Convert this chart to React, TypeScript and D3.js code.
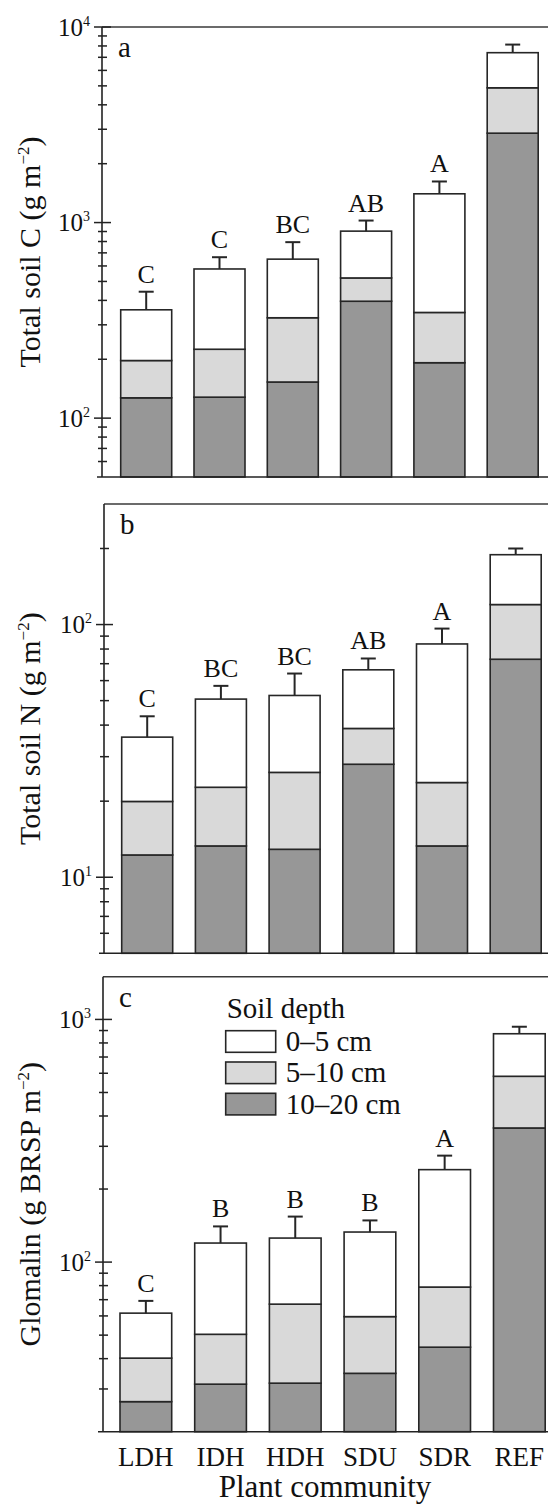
import React from "react";
import * as d3 from "d3";

const categories = ["LDH", "IDH", "HDH", "SDU", "SDR", "REF"];
const depthKeys = ["deep", "mid", "top"];
const legendLabels = ["0–5 cm", "5–10 cm", "10–20 cm"];

// Panel a: total soil C (g m-2)
const carbonDeep = [127, 128, 153, 396, 192, 2865];
const carbonMid = [70, 97, 173, 125, 155, 2023];
const carbonTop = [161, 354, 324, 383, 1056, 2502];
const carbonErr = [85, 86, 144, 120, 219, 740];
const carbonLetters = ["C", "C", "BC", "AB", "A", ""];

// Panel b: total soil N (g m-2)
const nitrogenDeep = [12.25, 13.3, 12.9, 28.0, 13.3, 72.9];
const nitrogenMid = [7.7, 9.4, 13.1, 10.8, 10.4, 47.1];
const nitrogenTop = [15.9, 28.0, 26.4, 27.4, 60.1, 69];
const nitrogenErr = [7.5, 6.5, 11.6, 7.2, 12.6, 11];
const nitrogenLetters = ["C", "BC", "BC", "AB", "A", ""];

// Panel c: glomalin (g BRSP m-2)
const glomalinDeep = [26.6, 31.4, 31.7, 34.8, 44.6, 357];
const glomalinMid = [13.6, 19.0, 35.4, 24.8, 34.3, 226];
const glomalinTop = [21.4, 69.4, 58.5, 73.4, 161.5, 290];
const glomalinErr = [7.6, 20.5, 28.4, 15.5, 34.2, 60];
const glomalinLetters = ["C", "B", "B", "B", "A", ""];

const FILL: Record<string, string> = { top: "#ffffff", mid: "#d9d9d9", deep: "#979797" };
const STROKE = "#262626";
const FONT = "'Liberation Serif', 'Times New Roman', serif";

type PanelSpec = {
  tag: string;
  title: string;
  titleSuffix?: string;
  deep: number[];
  mid: number[];
  top: number[];
  err: number[];
  letters: string[];
  domain: [number, number];
  axisX: number;
  y0: number;
  y1: number;
  firstBar: number;
  step: number;
  width: number;
  legend?: boolean;
};

const panels: PanelSpec[] = [
  {
    tag: "a", title: "Total soil C (g m", deep: carbonDeep, mid: carbonMid, top: carbonTop,
    err: carbonErr, letters: carbonLetters, domain: [50, 10000],
    axisX: 102, y0: 27, y1: 477, firstBar: 120.7, step: 73.3, width: 51,
  },
  {
    tag: "b", title: "Total soil N (g m", deep: nitrogenDeep, mid: nitrogenMid, top: nitrogenTop,
    err: nitrogenErr, letters: nitrogenLetters, domain: [5, 300],
    axisX: 104, y0: 504, y1: 953.3, firstBar: 121.7, step: 73.7, width: 51,
  },
  {
    tag: "c", title: "Glomalin (g BRSP m", deep: glomalinDeep, mid: glomalinMid, top: glomalinTop,
    err: glomalinErr, letters: glomalinLetters, domain: [20, 1500],
    axisX: 103, y0: 976.7, y1: 1431.7, firstBar: 120, step: 74.7, width: 51.7, legend: true,
  },
];

function Panel({ p, showX }: { p: PanelSpec; showX: boolean }) {
  const gap = p.step - p.width;
  const r0 = p.firstBar - gap / 2;
  const x = d3
    .scaleBand<string>()
    .domain(categories)
    .range([r0, r0 + 6 * p.step])
    .paddingInner(gap / p.step)
    .paddingOuter(gap / (2 * p.step));
  const y = d3.scaleLog().domain(p.domain).range([p.y1, p.y0]);

  const rows = categories.map((c, i) => ({ cat: c, deep: p.deep[i], mid: p.mid[i], top: p.top[i] }));
  const stacked = d3.stack<any>().keys(depthKeys)(rows);
  const totals = rows.map((r) => r.deep + r.mid + r.top);

  const ticks = y.ticks().filter((t) => {
    const isMajor = Math.abs(Math.log10(t) - Math.round(Math.log10(t))) < 1e-9;
    if (isMajor) return true;
    return t > p.domain[0] && t < p.domain[1];
  });

  const midY = (p.y0 + p.y1) / 2;
  const lo = p.domain[0];

  return (
    <g>
      {/* bars */}
      {stacked.map((layer) => (
        <g key={layer.key}>
          {layer.map((d, i) => {
            const yb = y(Math.max(d[0], lo));
            const yt = y(d[1]);
            return (
              <rect
                key={i}
                x={x(categories[i])}
                y={yt}
                width={x.bandwidth()}
                height={yb - yt}
                fill={FILL[layer.key]}
                stroke={STROKE}
                strokeWidth={1.6}
              />
            );
          })}
        </g>
      ))}
      {/* error bars + letters */}
      {categories.map((c, i) => {
        const cx = (x(c) as number) + x.bandwidth() / 2;
        const yt = y(totals[i]);
        const ye = y(totals[i] + p.err[i]);
        return (
          <g key={c}>
            <line x1={cx} x2={cx} y1={yt} y2={ye} stroke={STROKE} strokeWidth={2} />
            <line x1={cx - 7.5} x2={cx + 7.5} y1={ye} y2={ye} stroke={STROKE} strokeWidth={2} />
            {p.letters[i] && (
              <text x={cx} y={ye - 9} textAnchor="middle" fontSize={26} fontFamily={FONT} fill="#111">
                {p.letters[i]}
              </text>
            )}
          </g>
        );
      })}
      {/* frame */}
      <line x1={p.axisX} x2={548} y1={p.y0} y2={p.y0} stroke="#3a3a3a" strokeWidth={1.6} />
      <line x1={p.axisX} x2={p.axisX} y1={p.y0} y2={p.y1} stroke="#222" strokeWidth={1.6} />
      <line x1={p.axisX - 5} x2={548} y1={p.y1} y2={p.y1} stroke="#222" strokeWidth={1.6} />
      {/* ticks */}
      {ticks.map((t, k) => {
        const exp = Math.round(Math.log10(t));
        const isMajor = Math.abs(Math.log10(t) - exp) < 1e-9;
        const ty = y(t);
        return (
          <g key={k}>
            <line
              x1={p.axisX - (isMajor ? 8 : 4)}
              x2={p.axisX + (isMajor ? 9 : 5)}
              y1={ty}
              y2={ty}
              stroke="#222"
              strokeWidth={1.5}
            />
            {isMajor && (
              <text x={p.axisX - 12} y={ty + 8.5} textAnchor="end" fontFamily={FONT} fontSize={25} fill="#111">
                10
                <tspan fontSize={14} dy={-10}>{exp}</tspan>
              </text>
            )}
          </g>
        );
      })}
      {/* panel tag */}
      <text x={p.axisX + 16} y={p.y0 + 30} fontFamily={FONT} fontSize={29} fill="#111">
        {p.tag}
      </text>
      {/* y title */}
      <text
        transform={`translate(40,${midY}) rotate(-90)`}
        textAnchor="middle"
        fontFamily={FONT}
        fontSize={30}
        fill="#111"
      >
        {p.title}
        <tspan fontSize={17} dy={-11}>−2</tspan>
        <tspan dy={11}>)</tspan>
      </text>
      {/* legend */}
      {p.legend && (
        <g fontFamily={FONT} fill="#111">
          <text x={226.7} y={1018} fontSize={29}>Soil depth</text>
          {["top", "mid", "deep"].map((k, j) => (
            <g key={k}>
              <rect
                x={225.7}
                y={1030.7 + j * 31.3}
                width={50}
                height={21.6}
                fill={FILL[k]}
                stroke={STROKE}
                strokeWidth={1.6}
              />
              <text x={285.7} y={1050.5 + j * 31.6} fontSize={29}>
                {legendLabels[j]}
              </text>
            </g>
          ))}
        </g>
      )}
      {/* x labels */}
      {showX && (
        <g fontFamily={FONT} fill="#111">
          {categories.map((c) => (
            <text key={c} x={(x(c) as number) + x.bandwidth() / 2} y={1466} textAnchor="middle" fontSize={27}>
              {c}
            </text>
          ))}
          <text x={325} y={1497} textAnchor="middle" fontSize={31}>Plant community</text>
        </g>
      )}
    </g>
  );
}

export default function App() {
  return (
    <svg width={548} height={1508} style={{ display: "block", position: "absolute", left: 0, top: 0, background: "#fff" }}>
      <rect x={0} y={0} width={548} height={1508} fill="#fff" />
      {panels.map((p, i) => (
        <Panel key={p.tag} p={p} showX={i === 2} />
      ))}
    </svg>
  );
}
